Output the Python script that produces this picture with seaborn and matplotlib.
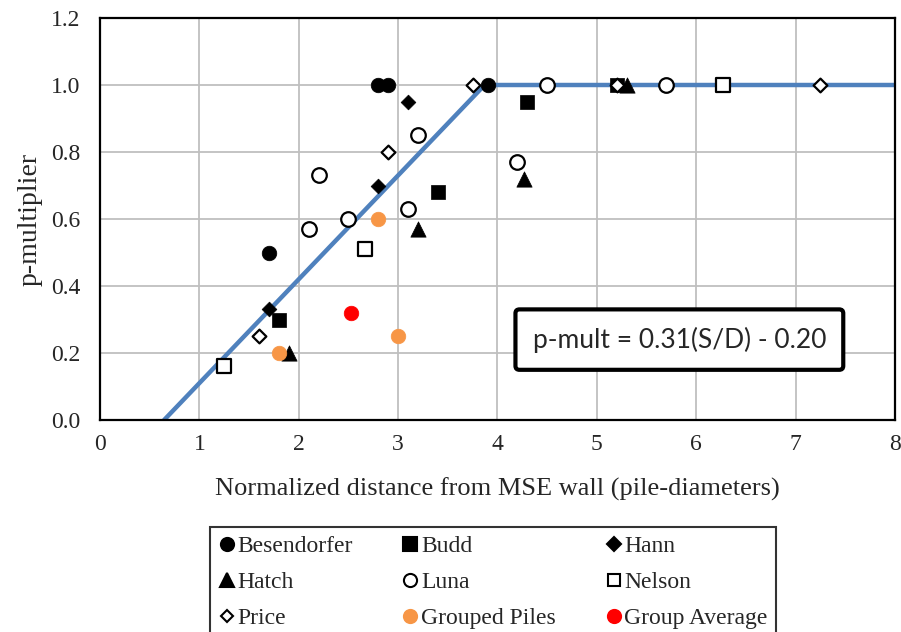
import pandas as pd
import matplotlib.pyplot as plt
import seaborn as sns
from matplotlib.lines import Line2D
from matplotlib.ticker import MultipleLocator, FormatStrFormatter

# data
besendorfer_x = [1.7, 2.8, 2.9, 3.9]
besendorfer_y = [0.50, 1.00, 1.00, 1.00]
budd_x = [1.8, 3.4, 4.3, 5.2]
budd_y = [0.30, 0.68, 0.95, 1.00]
hann_x = [1.7, 2.8, 3.1]
hann_y = [0.33, 0.70, 0.95]
hatch_x = [1.9, 3.2, 4.27, 5.3]
hatch_y = [0.20, 0.57, 0.72, 1.00]
luna_x = [2.1, 2.2, 2.5, 3.1, 3.2, 4.2, 4.5, 5.7]
luna_y = [0.57, 0.73, 0.60, 0.63, 0.85, 0.77, 1.00, 1.00]
nelson_x = [1.25, 2.67, 6.27]
nelson_y = [0.16, 0.51, 1.00]
price_x = [1.6, 2.9, 3.75, 5.2, 7.25]
price_y = [0.25, 0.80, 1.00, 1.00, 1.00]
grouped_x = [1.8, 2.8, 3.0]
grouped_y = [0.20, 0.60, 0.25]
group_avg_x = [2.53]
group_avg_y = [0.32]

# p-mult = 0.31(S/D) - 0.20, capped at 1.0
fit_x = [0.645, 3.87, 8.0]
fit_y = [0.0, 1.0, 1.0]

series = {
    'Besendorfer': (besendorfer_x, besendorfer_y),
    'Budd': (budd_x, budd_y),
    'Hann': (hann_x, hann_y),
    'Hatch': (hatch_x, hatch_y),
    'Luna': (luna_x, luna_y),
    'Nelson': (nelson_x, nelson_y),
    'Price': (price_x, price_y),
    'Grouped Piles': (grouped_x, grouped_y),
    'Group Average': (group_avg_x, group_avg_y),
}

# marker, face, edge, size (points)
styles = {
    'Besendorfer': ('o', 'black', 'black', 10.5),
    'Budd': ('s', 'black', 'black', 10.5),
    'Hann': ('D', 'black', 'black', 7.5),
    'Hatch': ('^', 'black', 'black', 11),
    'Luna': ('o', 'white', 'black', 10.5),
    'Nelson': ('s', 'white', 'black', 10),
    'Price': ('D', 'white', 'black', 7),
    'Grouped Piles': ('o', '#F79646', '#F79646', 10.5),
    'Group Average': ('o', '#FF0000', '#FF0000', 10.5),
}

rows = []
for name, (xs, ys) in series.items():
    for x, y in zip(xs, ys):
        rows.append({'study': name, 'x': x, 'y': y})
df = pd.DataFrame(rows)

sns.set_theme(style='white')
plt.rcParams['font.family'] = ['Liberation Serif', 'DejaVu Serif']

fig = plt.figure(figsize=(9.01, 6.32), dpi=100)
ax = fig.add_axes([100 / 901, 212 / 632, 795 / 901, 402 / 632])

sns.lineplot(x=fit_x, y=fit_y, color='#4F81BD', linewidth=3.2, ax=ax, zorder=2)

for name in series:
    m, fc, ec, ms = styles[name]
    lw = 1.6 if fc == 'white' else 0.5
    sns.scatterplot(data=df[df['study'] == name], x='x', y='y', marker=m,
                    color=fc, edgecolor=ec, linewidth=lw, s=ms ** 2,
                    ax=ax, zorder=3, legend=False)

ax.set_xlim(0, 8)
ax.set_ylim(0, 1.2)
ax.xaxis.set_major_locator(MultipleLocator(1))
ax.xaxis.set_minor_locator(MultipleLocator(0.2))
ax.yaxis.set_major_locator(MultipleLocator(0.2))
ax.yaxis.set_minor_locator(MultipleLocator(0.05))
ax.yaxis.set_major_formatter(FormatStrFormatter('%.1f'))
ax.tick_params(which='both', direction='in', length=5, width=1.2, color='black',
               labelsize=17)
ax.tick_params(axis='y', pad=14)
ax.tick_params(axis='x', pad=10)
ax.grid(True, which='major', color='#BFBFBF', linewidth=1.3)
ax.set_axisbelow(True)
for sp in ax.spines.values():
    sp.set_color('black')
    sp.set_linewidth(1.6)

ax.set_xlabel('Normalized distance from MSE wall (pile-diameters)', fontsize=19, labelpad=16)
ax.set_ylabel('p-multiplier', fontsize=20, labelpad=6)

ax.text(5.83, 0.24, 'p-mult = 0.31(S/D) - 0.20', ha='center', va='center',
        fontsize=19, family=['Lato', 'DejaVu Sans'], zorder=5,
        bbox=dict(boxstyle='round,pad=0.65,rounding_size=0.15',
                  fc='white', ec='black', lw=3))

# legend, reordered so it reads row by row
handles = []
for name in series:
    m, fc, ec, ms = styles[name]
    handles.append(Line2D([], [], linestyle='none', marker=m, markerfacecolor=fc,
                          markeredgecolor=ec, markeredgewidth=1.5,
                          markersize=ms * 0.9, label=name))
order = [0, 3, 6, 1, 4, 7, 2, 5, 8]
handles = [handles[i] for i in order]
leg = fig.legend(handles=handles, loc='upper left', bbox_to_anchor=(210 / 901, 1 - 527 / 632),
                 ncol=3, fontsize=17, frameon=True, fancybox=False, borderaxespad=0,
                 borderpad=0.35, handlelength=0.7, handletextpad=0.1,
                 columnspacing=2.1, labelspacing=0.62)
leg.get_frame().set_edgecolor('black')
leg.get_frame().set_linewidth(1.5)

fig.savefig('out.png', dpi=100)
